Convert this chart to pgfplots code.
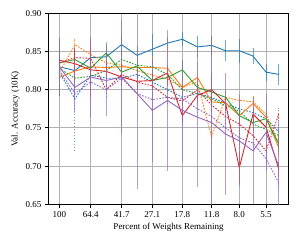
\documentclass[border=0pt]{standalone}
\usepackage{pgfplots}
\pgfplotsset{compat=1.18}
\usepackage{pgfplotstable}
\usepackage{fontspec}
\setmainfont{Liberation Serif}
\definecolor{tblue}{HTML}{1F77B4}
\definecolor{torange}{HTML}{FF7F0E}
\definecolor{tgreen}{HTML}{2CA02C}
\definecolor{tred}{HTML}{D62728}
\definecolor{tpurple}{HTML}{9467BD}
% columns: p = percent remaining, s = solid, se = error, d = dotted, de = error
\pgfplotstableread{
p     s      se     d      de
100   0.830  0.038  0.823  0.010
80.3  0.825  0.015  0.788  0.068
64.4  0.842  0.012  0.819  0.010
51.8  0.843  0.012  0.815  0.010
41.7  0.859  0.013  0.815  0.010
33.6  0.845  0.012  0.820  0.010
27.1  0.853  0.020  0.810  0.010
21.9  0.861  0.008  0.800  0.010
17.8  0.866  0.009  0.790  0.010
14.4  0.856  0.014  0.795  0.010
11.8  0.858  0.012  0.790  0.010
9.7   0.851  0.014  0.782  0.010
8.0   0.851  0.016  0.775  0.010
6.6   0.844  0.011  0.770  0.010
5.5   0.823  0.011  0.762  0.010
4.6   0.820  0.014  0.745  0.010
}\tabB
\pgfplotstableread{
p     s      se     d      de
100   0.816  0.010  0.822  0.008
80.3  0.8245 0.010  0.859  0.008
64.4  0.830  0.012  0.846  0.008
51.8  0.829  0.010  0.835  0.008
41.7  0.830  0.010  0.832  0.008
33.6  0.829  0.010  0.825  0.008
27.1  0.829  0.015  0.819  0.008
21.9  0.828  0.025  0.814  0.008
17.8  0.803  0.012  0.803  0.008
14.4  0.816  0.020  0.810  0.008
11.8  0.784  0.010  0.738  0.008
9.7   0.783  0.010  0.790  0.008
8.0   0.766  0.010  0.786  0.008
6.6   0.782  0.010  0.784  0.008
5.5   0.764  0.010  0.768  0.008
4.6   0.724  0.012  0.730  0.008
}\tabO
\pgfplotstableread{
p     s      se     d      de
100   0.835  0.010  0.828  0.008
80.3  0.8395 0.010  0.815  0.008
64.4  0.828  0.010  0.8175 0.008
51.8  0.848  0.015  0.825  0.008
41.7  0.823  0.010  0.8395 0.008
33.6  0.831  0.010  0.832  0.008
27.1  0.812  0.010  0.830  0.008
21.9  0.816  0.010  0.820  0.008
17.8  0.826  0.012  0.800  0.008
14.4  0.803  0.010  0.795  0.008
11.8  0.797  0.010  0.788  0.008
9.7   0.790  0.010  0.779  0.008
8.0   0.766  0.010  0.772  0.008
6.6   0.757  0.010  0.755  0.008
5.5   0.762  0.010  0.748  0.008
4.6   0.729  0.010  0.740  0.008
}\tabG
\pgfplotstableread{
p     s      se     d      de
100   0.8386 0.010  0.835  0.008
80.3  0.834  0.021  0.842  0.008
64.4  0.826  0.036  0.841  0.008
51.8  0.824  0.010  0.800  0.008
41.7  0.8166 0.010  0.820  0.008
33.6  0.811  0.010  0.810  0.008
27.1  0.812  0.010  0.805  0.008
21.9  0.822  0.010  0.790  0.008
17.8  0.766  0.010  0.785  0.008
14.4  0.7925 0.010  0.800  0.008
11.8  0.800  0.020  0.780  0.008
9.7   0.782  0.010  0.765  0.008
8.0   0.698  0.020  0.755  0.008
6.6   0.768  0.010  0.740  0.008
5.5   0.751  0.010  0.720  0.008
4.6   0.696  0.010  0.768  0.008
}\tabR
\pgfplotstableread{
p     s      se     d      de
100   0.830  0.038  0.825  0.008
80.3  0.803  0.034  0.795  0.008
64.4  0.8166 0.053  0.810  0.008
51.8  0.812  0.046  0.800  0.008
41.7  0.8166 0.074  0.815  0.008
33.6  0.795  0.125  0.795  0.008
27.1  0.773  0.067  0.787  0.008
21.9  0.786  0.092  0.790  0.008
17.8  0.773  0.066  0.788  0.008
14.4  0.764  0.092  0.775  0.008
11.8  0.757  0.110  0.765  0.008
9.7   0.742  0.080  0.750  0.008
8.0   0.733  0.060  0.737  0.008
6.6   0.720  0.070  0.730  0.008
5.5   0.744  0.050  0.710  0.008
4.6   0.700  0.060  0.678  0.008
}\tabP
\begin{document}
\begin{tikzpicture}
\begin{axis}[
  at={(0pt,0pt)}, anchor=south west,
  scale only axis, width=240.4pt, height=191pt,
  xmode=log, x dir=reverse,
  xmin=4.0, xmax=116.7, ymin=0.65, ymax=0.90,
  xtick={100,64.4,41.7,27.1,17.8,11.8,8.0,5.5},
  xticklabels={100,64.4,41.7,27.1,17.8,11.8,8.0,5.5},
  xminorticks=false,
  ytick={0.65,0.70,0.75,0.80,0.85,0.90},
  yticklabel style={/pgf/number format/.cd, fixed, fixed zerofill, precision=2},
  /pgf/number format/assume math mode=true,
  ticklabel style={font=\fontsize{9}{10}\selectfont},
  label style={font=\fontsize{9}{10}\selectfont},
  xlabel={Percent of Weights Remaining},
  ylabel={Val. Accuracy (10K)},
  xlabel style={yshift=1pt},
  ylabel style={yshift=-1pt},
  tick align=outside, tick pos=left,
  major tick length=3.5pt,
  tick style={black, line width=0.8pt},
  axis line style={black, line width=0.8pt},
  grid=major,
  major grid style={color=black!30, line width=0.8pt},
  every axis plot/.append style={line width=0.9pt, mark=none},
  error bars/error bar style={line width=1pt, opacity=0.65},
  error bars/error mark=none,
  clip=true,
]
\addplot[color=tblue, error bars/.cd, y dir=both, y explicit] table[x=p, y=s, y error=se] {\tabB};
\addplot[color=tblue, dash pattern=on 1.6pt off 1.4pt, error bars/.cd, y dir=both, y explicit] table[x=p, y=d, y error=de] {\tabB};
\addplot[color=torange, error bars/.cd, y dir=both, y explicit] table[x=p, y=s, y error=se] {\tabO};
\addplot[color=torange, dash pattern=on 1.6pt off 1.4pt, error bars/.cd, y dir=both, y explicit] table[x=p, y=d, y error=de] {\tabO};
\addplot[color=tgreen, error bars/.cd, y dir=both, y explicit] table[x=p, y=s, y error=se] {\tabG};
\addplot[color=tgreen, dash pattern=on 1.6pt off 1.4pt, error bars/.cd, y dir=both, y explicit] table[x=p, y=d, y error=de] {\tabG};
\addplot[color=tred, error bars/.cd, y dir=both, y explicit] table[x=p, y=s, y error=se] {\tabR};
\addplot[color=tred, dash pattern=on 1.6pt off 1.4pt, error bars/.cd, y dir=both, y explicit] table[x=p, y=d, y error=de] {\tabR};
\addplot[color=tpurple, error bars/.cd, y dir=both, y explicit] table[x=p, y=s, y error=se] {\tabP};
\addplot[color=tpurple, dash pattern=on 1.6pt off 1.4pt, error bars/.cd, y dir=both, y explicit] table[x=p, y=d, y error=de] {\tabP};
\end{axis}
\pgfresetboundingbox
\path (-48.3pt,-40.7pt) rectangle (253.7pt,204.3pt);
\end{tikzpicture}
\end{document}
